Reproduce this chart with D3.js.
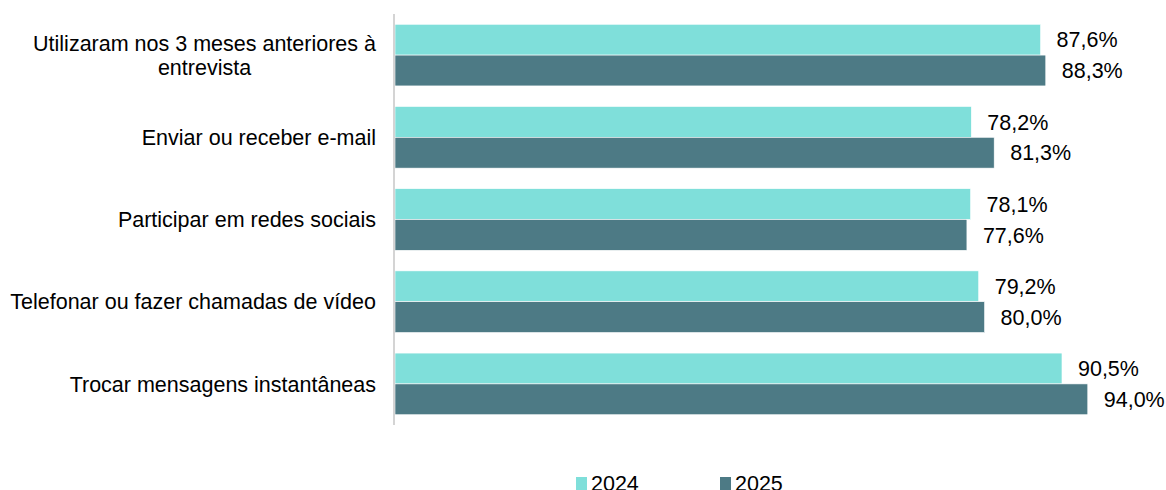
<!DOCTYPE html>
<html>
<head>
<meta charset="utf-8">
<script src="https://cdn.jsdelivr.net/npm/d3@7"></script>
<style>
  body { margin: 0; background: #fff; }
  svg { display: block; font-family: Arial, 'Liberation Sans', sans-serif; }
</style>
</head>
<body>
<div id="frame"></div>
<script>
const categories = [
  ['Utilizaram nos 3 meses anteriores à', 'entrevista'],
  ['Enviar ou receber e-mail'],
  ['Participar em redes sociais'],
  ['Telefonar ou fazer chamadas de vídeo'],
  ['Trocar mensagens instantâneas']
]
const years = ['2024', '2025']
const values2024 = [87.6, 78.2, 78.1, 79.2, 90.5]
const values2025 = [88.3, 81.3, 77.6, 80.0, 94.0]

const width = 1166
const height = 490
const fontSize = 21.5
const colors = { '2024': '#7fdfda', '2025': '#4d7a85' }
const fmt = v => d3.format('.1f')(v).replace('.', ',') + '%'

const svg = d3.select('#frame').append('svg')
  .attr('width', width)
  .attr('height', height)

const x = d3.scaleLinear().domain([0, 100]).range([395, 1132])
const y = d3.scaleBand().domain(d3.range(categories.length)).range([14, 425]).paddingInner(0.25).paddingOuter(0.125)
const ySub = d3.scaleBand().domain(years).range([0, y.bandwidth()])

const rows = categories.map((c, i) => ({ i, label: c, '2024': values2024[i], '2025': values2025[i] }))

const groups = svg.selectAll('g.group')
  .data(rows)
  .join('g')
  .attr('class', 'group')
  .attr('transform', d => `translate(0,${y(d.i)})`)

years.forEach(yr => {
  groups.append('rect')
    .attr('x', x(0))
    .attr('y', ySub(yr))
    .attr('width', d => x(d[yr]) - x(0))
    .attr('height', ySub.bandwidth())
    .attr('fill', colors[yr])
    .attr('stroke', '#fff')
    .attr('stroke-width', 0.6)

  groups.append('text')
    .attr('x', d => x(d[yr]) + 16)
    .attr('y', ySub(yr) + ySub.bandwidth() / 2)
    .attr('dy', '0.36em')
    .attr('font-size', fontSize)
    .attr('fill', '#000')
    .text(d => fmt(d[yr]))
})

// category labels, multi-line ones centred on their widest line
const labelRight = 376
groups.each(function (d) {
  const g = d3.select(this)
  const cy = y.bandwidth() / 2
  const lh = 23.5
  const n = d.label.length
  const t = g.append('text')
    .attr('font-size', fontSize)
    .attr('fill', '#000')
    .attr('text-anchor', 'middle')
  d.label.forEach((line, k) => {
    t.append('tspan')
      .attr('y', cy + (k - (n - 1) / 2) * lh)
      .attr('dy', '0.36em')
      .text(line)
  })
  let maxW = 0
  t.selectAll('tspan').each(function () { maxW = Math.max(maxW, this.getComputedTextLength()) })
  t.selectAll('tspan').attr('x', labelRight - maxW / 2)
})

// axis line
svg.append('line')
  .attr('x1', 394).attr('x2', 394)
  .attr('y1', 14).attr('y2', 425)
  .attr('stroke', '#d4d4d4')
  .attr('stroke-width', 2)

// legend (bottom edge is clipped in the original too)
const legendX = [576, 720]
const legend = svg.selectAll('g.legend')
  .data(years)
  .join('g')
  .attr('class', 'legend')
  .attr('transform', (d, i) => `translate(${legendX[i]},477)`)
legend.append('rect')
  .attr('width', 11).attr('height', 14)
  .attr('fill', d => colors[d])
legend.append('text')
  .attr('x', 15)
  .attr('y', 14)
  .attr('font-size', fontSize)
  .attr('fill', '#000')
  .text(d => d)
</script>
</body>
</html>
